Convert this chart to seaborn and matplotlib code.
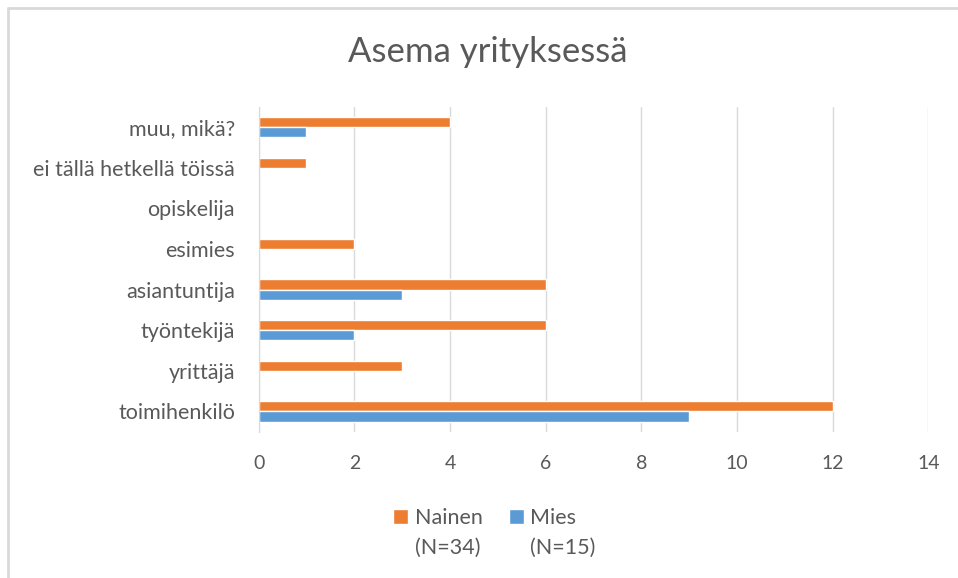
"""Asema yrityksessä - grouped horizontal bars

"""

import pandas as pd
import seaborn as sns
import matplotlib.pyplot as plt
from matplotlib.lines import Line2D

categories = ["muu, mikä?", "ei tällä hetkellä töissä", "opiskelija", "esimies",
              "asiantuntija", "työntekijä", "yrittäjä", "toimihenkilö"]
nainen = [4, 1, 0, 2, 6, 6, 3, 12]
mies = [1, 0, 0, 0, 3, 2, 0, 9]
series = ["Nainen", "Mies"]
series_n = ["(N=34)", "(N=15)"]
colors = ["#ED7D31", "#5B9BD5"]
x_ticks = [0, 2, 4, 6, 8, 10, 12, 14]

df = pd.DataFrame({
    "asema": categories * 2,
    "lkm": nainen + mies,
    "sukupuoli": [series[0]] * len(categories) + [series[1]] * len(categories),
})

sns.set_style("white")
plt.rcParams["font.family"] = ["Lato", "DejaVu Sans"]
text_color = "#595959"

fig = plt.figure(figsize=(9.58, 5.78), dpi=100)
ax = fig.add_axes([0.270, 0.253, 0.699, 0.562])

sns.barplot(data=df, x="lkm", y="asema", hue="sukupuoli", order=categories,
            hue_order=series, palette=colors, orient="h", width=0.5,
            saturation=1, ax=ax)

ax.set_xlim(0, 14)
ax.set_xticks(x_ticks)
ax.set_xlabel("")
ax.set_ylabel("")
ax.grid(axis="x", color="#D9D9D9", linewidth=1)
ax.set_axisbelow(True)
for side in ["top", "right", "bottom"]:
    ax.spines[side].set_visible(False)
ax.spines["left"].set_color("#D9D9D9")
ax.tick_params(axis="y", length=0, labelsize=15.5, colors=text_color, pad=17)
ax.tick_params(axis="x", length=0, labelsize=14, colors=text_color, pad=17)

fig.text(0.509, 0.91, "Asema yrityksessä", ha="center", va="center",
         fontsize=25, color=text_color)

handles, labels = ax.get_legend_handles_labels()
ax.legend_.remove()
leg = fig.legend(handles, labels, loc="center", bbox_to_anchor=(0.506, 0.104),
                 ncol=2, frameon=False, fontsize=15.5, labelcolor=text_color,
                 handlelength=0.7, handleheight=0.7, handletextpad=0.3,
                 columnspacing=1.2)

# second legend line with group sizes, under each label
fig.canvas.draw()
inv = fig.transFigure.inverted()
for txt, n_label in zip(leg.get_texts(), series_n):
    bb = txt.get_window_extent()
    x0, y0 = inv.transform((bb.x0, bb.y0 - 30))
    fig.text(x0, y0, n_label, ha="left", va="bottom", fontsize=15.5,
             color=text_color)

# light border on the top and left edge of the chart area
fig.add_artist(Line2D([0.0084, 0.0084], [0.0, 0.987], color="#D9D9D9",
                      linewidth=2, transform=fig.transFigure))
fig.add_artist(Line2D([0.0084, 1.0], [0.987, 0.987], color="#D9D9D9",
                      linewidth=2, transform=fig.transFigure))

fig.savefig("out.png", dpi=100)
